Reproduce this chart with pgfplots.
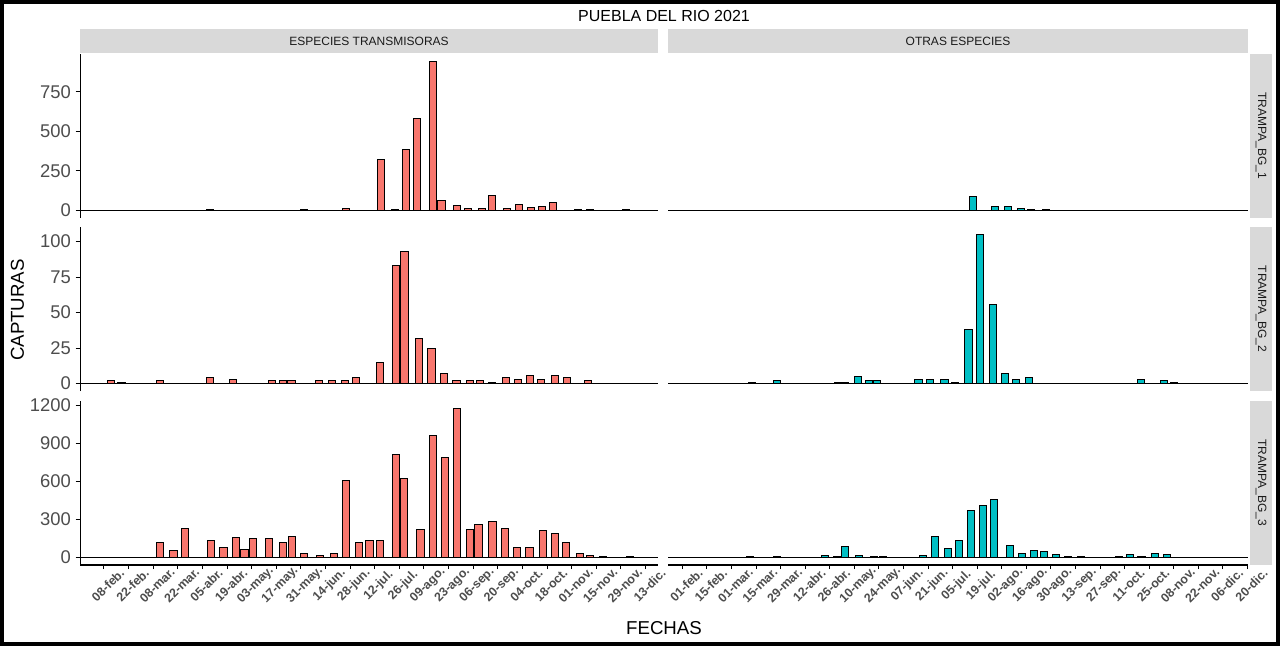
\documentclass[border=0pt]{standalone}
\usepackage{pgfplots}
\pgfplotsset{compat=1.18}
\usepackage{fontspec}
\setmainfont{Liberation Sans}
\definecolor{cred}{HTML}{F8766D}
\definecolor{ccyan}{HTML}{00BFC4}
\definecolor{stripgray}{HTML}{D9D9D9}
\definecolor{g30}{HTML}{4D4D4D}
\definecolor{g10}{HTML}{1A1A1A}

% ---------------- data (day of year 2021, captures) ----------------
\pgfplotstableread{
x y
99.3 5
153 4
176.7 12
196.7 323
204.5 4
210.8 387
216.9 583
226 944
231 63
240 32
246 13
253.8 13
259.5 95
268 13
274.9 38
281.7 19
288 25
294.6 51
308.5 5
315.5 5
336 5
}\lA
\pgfplotstableread{
x y
42.9 2
49 1
70.8 2
99.3 4
104.8 0
112.4 3
134.8 2
140.9 2
145.7 2
161.1 2
168.7 2
175.9 2
182.2 4
190.5 0
196 15
205.1 83
209.9 93
218.2 32
225.3 25
232.3 7
239.5 2
247.1 2
253 2
259.5 1
267.6 4
274.3 3
281.3 6
287.6 3
295.4 6
302.4 4
314.1 2
}\lB
\pgfplotstableread{
x y
70.8 118
78.6 55
85 229
99.7 134
107 79
114 158
119 63
124 150
133 150
141 118
146 166
152.6 32
161.8 16
169.8 32
176.8 608
184 118
190 129
196 129
205 813
209.5 624
219 221
226 963
233 789
240 1176
247 221
252 260
260 284
267 229
274 79
281 79
288.7 213
295.7 189
301.6 118
309.6 32
315.5 16
323 8
338 8
}\lC
\pgfplotstableread{
x y
197.7 87
210.2 23
217.6 23
224.9 11
230.8 4
239.3 4
}\rA
\pgfplotstableread{
x y
42.3 0
71.7 1
85.8 2
106.7 0
120.6 1
124.8 1
132.3 5
138.5 2
142.7 2
158.3 0
166.6 3
172.9 3
181.4 3
187.2 1
195.1 38
201.4 105
208.8 56
215.7 7
221.9 3
229.5 4
258.8 0
293.2 3
306.3 2
312 1
}\rB
\pgfplotstableread{
x y
70.6 5
85.8 5
113.1 16
120.3 5
124.5 87
132.7 16
141.3 5
146.4 5
169.2 16
175.8 166
183.4 71
189.7 134
196.5 371
203.4 410
209.7 458
218.6 95
225.6 32
232.3 55
238.2 47
244.8 24
251.8 5
259 5
280.7 5
287 24
293.6 5
301.2 32
308 24
}\rC

\pgfplotsset{
  panel/.style={
    scale only axis,
    anchor=south west,
    height=123pt,
    axis line style={-},
    tick align=outside,
    major tick length=3.3pt,
    tick style={black, line width=0.75pt},
    /pgf/number format/assume math mode=true,
    /pgf/number format/1000 sep={},
    yticklabel style={font=\fontsize{13.8}{13.8}\selectfont, text=g30},
    xticklabel style={font=\bfseries\fontsize{9.3}{9.3}\selectfont, text=g30, anchor=center, xshift=3pt, yshift=-12pt, rotate=45},
    ybar, bar width=5.4pt,
  },
  leftcol/.style={panel, width=433.5pt, xmin=25.4, xmax=354.1,
    axis y line*=left, y axis line style={line width=0.75pt}},
  rightcol/.style={panel, width=435pt, xmin=23.85, xmax=354.3,
    axis y line=none, ytick=\empty},
  notbottom/.style={axis x line=none, xtick=\empty},
  bottomrow/.style={axis x line*=bottom, x axis line style={line width=1.6pt}},
  leftticks/.style={xtick={39,53,...,347},
    xticklabels={08-feb.,22-feb.,08-mar.,22-mar.,05-abr.,19-abr.,03-may.,17-may.,31-may.,14-jun.,28-jun.,12-jul.,26-jul.,09-ago.,23-ago.,06-sep.,20-sep.,04-oct.,18-oct.,01-nov.,15-nov.,29-nov.,13-dic.}},
  rightticks/.style={xtick={32,46,...,354},
    xticklabels={01-feb.,15-feb.,01-mar.,15-mar.,29-mar.,12-abr.,26-abr.,10-may.,24-may.,07-jun.,21-jun.,05-jul.,19-jul.,02-ago.,16-ago.,30-ago.,13-sep.,27-sep.,11-oct.,25-oct.,08-nov.,22-nov.,06-dic.,20-dic.}},
  row1/.style={ymin=-47.2, ymax=991.2, ytick={0,250,500,750}},
  row2/.style={ymin=-5.25, ymax=110.25, ytick={0,25,50,75,100}},
  row3/.style={ymin=-58.8, ymax=1234.8, ytick={0,300,600,900,1200}},
  redbar/.style={fill=cred, draw=black, line width=0.75pt, bar shift=0pt},
  cyanbar/.style={fill=ccyan, draw=black, line width=0.75pt, bar shift=0pt},
}
\newcommand{\zeroline}{\draw[black, line width=0.8pt] ({rel axis cs:0,0}|-{axis cs:100,0}) -- ({rel axis cs:1,0}|-{axis cs:100,0});}

\begin{document}
\begin{tikzpicture}
\useasboundingbox (0,0) rectangle (960pt,484.5pt);
\fill[white] (0,0) rectangle (960pt,484.5pt);

% title and axis titles
\node[font=\fontsize{12}{12}\selectfont] at (498pt,472.5pt) {PUEBLA DEL RIO 2021};
\node[font=\fontsize{14}{14}\selectfont, rotate=90] at (13pt,252pt) {CAPTURAS};
\node[font=\fontsize{14}{14}\selectfont] at (498pt,13.5pt) {FECHAS};

% strips
\fill[stripgray] (60pt,444.4pt) rectangle (493.5pt,462.5pt);
\node[font=\fontsize{9}{9}\selectfont, text=g10] at (276.75pt,453.4pt) {ESPECIES TRANSMISORAS};
\fill[stripgray] (501pt,444.4pt) rectangle (936pt,462.5pt);
\node[font=\fontsize{9}{9}\selectfont, text=g10] at (718.5pt,453.4pt) {OTRAS ESPECIES};
\fill[stripgray] (937.5pt,321.2pt) rectangle (954pt,444.2pt);
\node[font=\fontsize{9}{9}\selectfont, text=g10, rotate=-90] at (945.75pt,382.7pt) {TRAMPA\_BG\_1};
\fill[stripgray] (937.5pt,191.2pt) rectangle (954pt,314.2pt);
\node[font=\fontsize{9}{9}\selectfont, text=g10, rotate=-90] at (945.75pt,252.7pt) {TRAMPA\_BG\_2};
\fill[stripgray] (937.5pt,60.9pt) rectangle (954pt,183.9pt);
\node[font=\fontsize{9}{9}\selectfont, text=g10, rotate=-90] at (945.75pt,122.4pt) {TRAMPA\_BG\_3};

% row 1
\begin{axis}[leftcol, notbottom, row1, at={(60pt,321.2pt)}]
\addplot[redbar] table[x=x,y=y] {\lA};
\zeroline
\end{axis}
\begin{axis}[rightcol, notbottom, row1, at={(501pt,321.2pt)}]
\addplot[cyanbar] table[x=x,y=y] {\rA};
\zeroline
\end{axis}
% row 2
\begin{axis}[leftcol, notbottom, row2, at={(60pt,191.2pt)}]
\addplot[redbar] table[x=x,y=y] {\lB};
\zeroline
\end{axis}
\begin{axis}[rightcol, notbottom, row2, at={(501pt,191.2pt)}]
\addplot[cyanbar] table[x=x,y=y] {\rB};
\zeroline
\end{axis}
% row 3
\begin{axis}[leftcol, bottomrow, leftticks, row3, at={(60pt,60.9pt)}]
\addplot[redbar] table[x=x,y=y] {\lC};
\zeroline
\end{axis}
\begin{axis}[rightcol, bottomrow, rightticks, row3, at={(501pt,60.9pt)}]
\addplot[cyanbar] table[x=x,y=y] {\rC};
\zeroline
\end{axis}

% frame
\draw[black, line width=3pt] (1.5pt,1.5pt) rectangle (958.5pt,483pt);
\end{tikzpicture}
\end{document}
